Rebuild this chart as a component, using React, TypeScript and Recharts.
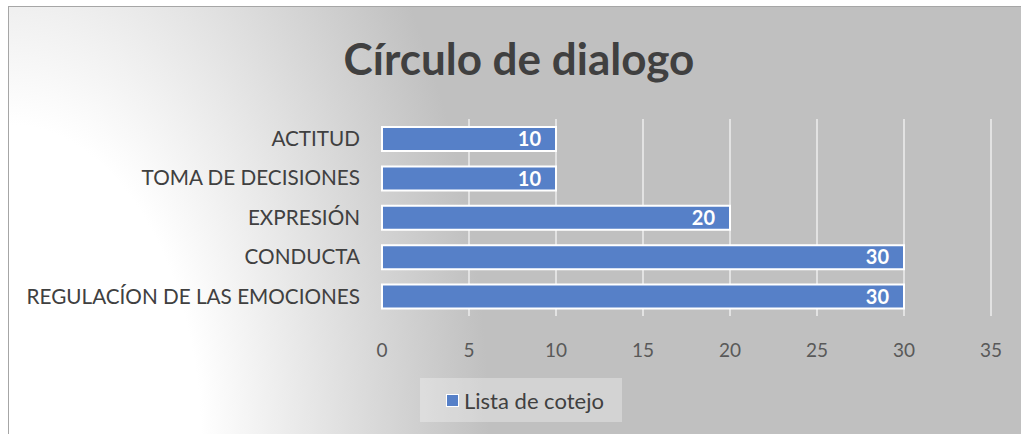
import { BarChart, Bar, XAxis, YAxis, CartesianGrid, LabelList } from "recharts";

/* ================= DATA ================= */
const categories = [
  "ACTITUD",
  "TOMA DE DECISIONES",
  "EXPRESIÓN",
  "CONDUCTA",
  "REGULACÍON DE LAS EMOCIONES",
];
const listaDeCotejo = [10, 10, 20, 30, 30];
const xTicks = [0, 5, 10, 15, 20, 25, 30, 35];

const data = categories.map((name, i) => ({ name, value: listaDeCotejo[i] }));

/* ================= STYLE ================= */
const FONT = "Lato, 'Open Sans', sans-serif";
const colors = {
  bar: "#5680C8",
  text: "#404040",
  tick: "#595959",
  grid: "#e2e2e2",
};

export default function App() {
  return (
    <div
      style={{
        position: "absolute",
        left: 0,
        top: 0,
        width: 1021,
        height: 434,
        overflow: "hidden",
        background: "#fff",
        fontFamily: FONT,
      }}
    >
      {/* -------- Frame with gradient fill -------- */}
      <div
        style={{
          position: "absolute",
          left: 8,
          top: 6,
          width: 1030,
          height: 440,
          boxSizing: "border-box",
          border: "1px solid #a6a6a6",
          background:
            "radial-gradient(ellipse 480px 800px at 0% 100%, #ffffff 0%, #ffffff 40%, #c0c0c0 100%)",
        }}
      />

      {/* -------- Title -------- */}
      <div
        style={{
          position: "absolute",
          left: 0,
          width: 1038,
          top: 32,
          textAlign: "center",
          fontSize: 44,
          fontWeight: 700,
          color: colors.text,
        }}
      >
        Círculo de dialogo
      </div>

      {/* -------- Chart -------- */}
      <div style={{ position: "absolute", left: 0, top: 0 }}>
        <BarChart
          width={1021}
          height={434}
          data={data}
          layout="vertical"
          barSize={24}
          margin={{ top: 119, right: 30, left: 22, bottom: 78 }}
        >
          <CartesianGrid
            horizontal={false}
            stroke={colors.grid}
            strokeWidth={2}
            verticalValues={xTicks.slice(1)}
          />
          <XAxis
            type="number"
            domain={[0, 35]}
            ticks={xTicks}
            axisLine={false}
            tickLine={false}
            tickMargin={22}
            height={40}
            tick={{ fill: colors.tick, fontSize: 19, fontFamily: FONT }}
          />
          <YAxis
            type="category"
            dataKey="name"
            width={360}
            axisLine={false}
            tickLine={false}
            tickMargin={16}
            interval={0}
            tick={{ fill: colors.text, fontSize: 20.7, fontFamily: FONT }}
          />
          <Bar
            dataKey="value"
            name="Lista de cotejo"
            fill={colors.bar}
            stroke="#ffffff"
            strokeWidth={2}
            isAnimationActive={false}
          >
            <LabelList
              dataKey="value"
              position="insideRight"
              offset={15}
              fill="#ffffff"
              fontSize={20}
              fontWeight={700}
              fontFamily={FONT}
            />
          </Bar>
        </BarChart>
      </div>

      {/* -------- Legend -------- */}
      <div
        style={{
          position: "absolute",
          left: 420,
          top: 378,
          width: 202,
          height: 44,
          background: "rgba(255,255,255,0.3)",
          display: "flex",
          alignItems: "center",
          boxSizing: "border-box",
          paddingLeft: 26,
          fontSize: 22,
          color: colors.text,
        }}
      >
        <span
          style={{
            display: "inline-block",
            width: 11,
            height: 11,
            background: colors.bar,
            border: "1px solid #fff",
            marginRight: 5,
          }}
        />
        Lista de cotejo
      </div>
    </div>
  );
}
